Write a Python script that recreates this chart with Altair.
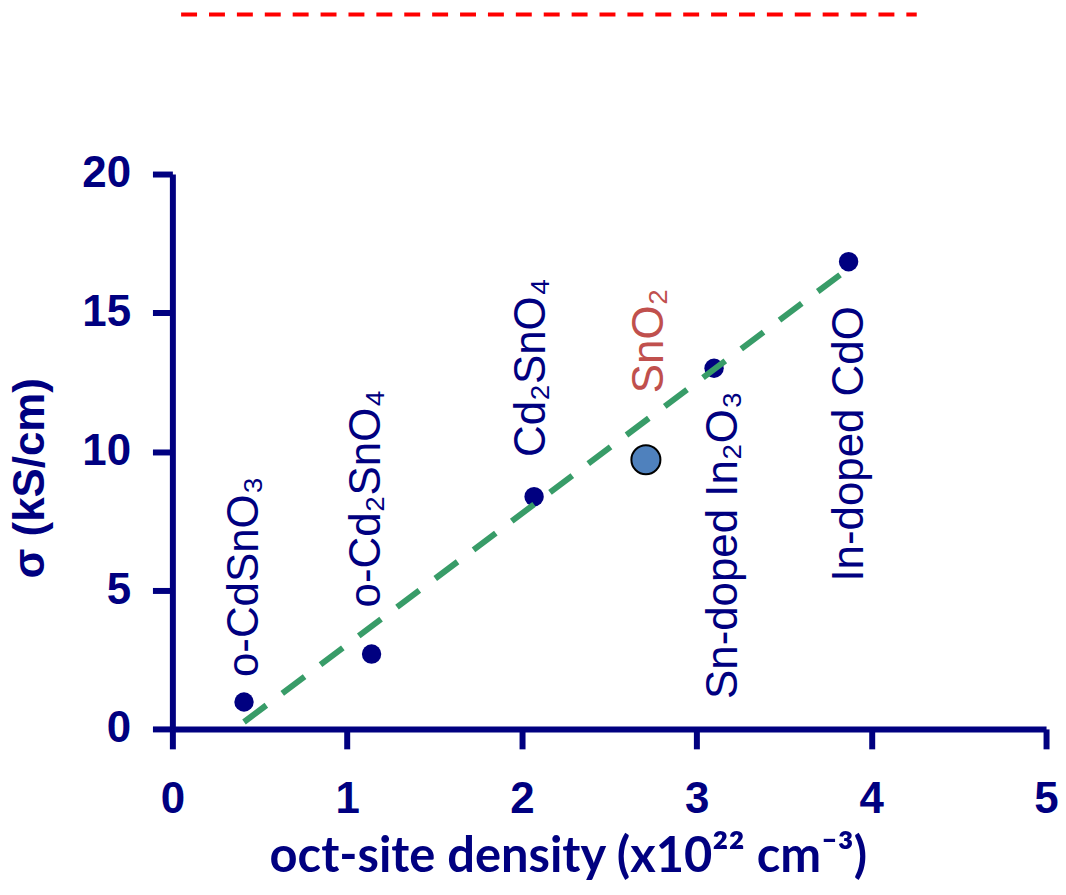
import altair as alt
import pandas as pd

# ---- data ----
materials = ["o-CdSnO₃", "o-Cd₂SnO₄", "Cd₂SnO₄", "Sn-doped In₂O₃", "In-doped CdO"]
density = [0.41, 1.14, 2.07, 3.10, 3.87]
sigma = [0.97, 2.70, 8.37, 13.0, 16.84]
label_x = [0.49, 1.19, 2.13, 3.23, 3.95]
label_y = [1.87, 4.38, 9.80, 1.08, 5.31]

sno2_name = ["SnO₂"]
sno2_density = [2.71]
sno2_sigma = [9.70]
sno2_label_x = [2.81]
sno2_label_y = [12.10]

fit_x = [0.41, 3.87]
fit_y = [0.25, 16.6]

ref_x0 = [0.05]
ref_x1 = [4.26]
ref_y = [25.75]

x_ticks = [0, 1, 2, 3, 4, 5]
y_ticks = [0, 5, 10, 15, 20]

NAVY = "#000080"

pts = pd.DataFrame({"name": materials, "x": density, "y": sigma, "lx": label_x, "ly": label_y})
sno2 = pd.DataFrame({"name": sno2_name, "x": sno2_density, "y": sno2_sigma,
                     "lx": sno2_label_x, "ly": sno2_label_y})
fit = pd.DataFrame({"x": fit_x, "y": fit_y})
ref = pd.DataFrame({"x": ref_x0, "x2": ref_x1, "y": ref_y})

xs = alt.Scale(domain=[0, 5], nice=False, zero=False)
ys = alt.Scale(domain=[0, 20], nice=False, zero=False)

xaxis = alt.Axis(
    values=x_ticks, title="oct-site density (x10²² cm⁻³)", grid=False,
    domainColor=NAVY, domainWidth=6, tickColor=NAVY, tickWidth=6, tickSize=20,
    labelFont="Liberation Sans", labelFontWeight="bold", labelFontSize=44, labelColor=NAVY,
    labelPadding=29, labelFlush=False,
    titleFont="Lato", titleFontWeight="bold", titleFontSize=49, titleColor=NAVY,
    titleX=397, titleY=143, titleBaseline="alphabetic", titleAlign="center",
)
yaxis = alt.Axis(
    values=y_ticks, title="σ (kS/cm)", grid=False,
    domainColor=NAVY, domainWidth=6, tickColor=NAVY, tickWidth=6, tickSize=20,
    labelFont="Liberation Sans", labelFontWeight="bold", labelFontSize=44, labelColor=NAVY,
    labelPadding=22, labelFlush=False, labelBaseline="middle",
    titleFont="Liberation Sans", titleFontWeight="bold", titleFontSize=44, titleColor=NAVY,
    titleX=-142, titleY=305, titleAngle=270, titleAlign="center", titleBaseline="middle",
)

X = lambda f="x": alt.X(f, type="quantitative", scale=xs, axis=xaxis)
Y = lambda f="y": alt.Y(f, type="quantitative", scale=ys, axis=yaxis)

points = alt.Chart(pts).mark_point(filled=True, shape="circle", size=380, color=NAVY, opacity=1).encode(
    x=X(), y=Y())

sno2_pt = alt.Chart(sno2).mark_point(filled=True, shape="circle", size=850, fill="#4f81bd",
                                     stroke="black", strokeWidth=2, opacity=1).encode(x=X(), y=Y())

labels = alt.Chart(pts).mark_text(angle=270, align="left", baseline="alphabetic",
                                  font="Liberation Sans", fontSize=44, color=NAVY).encode(
    x=X("lx"), y=Y("ly"), text="name:N")

sno2_label = alt.Chart(sno2).mark_text(angle=270, align="left", baseline="alphabetic",
                                       font="Liberation Sans", fontSize=44, color="#c0504d").encode(
    x=X("lx"), y=Y("ly"), text="name:N")

fit_line = alt.Chart(fit).mark_line(color="#389c68", strokeWidth=6, strokeDash=[28, 20]).encode(
    x=X(), y=Y())

ref_line = alt.Chart(ref).mark_rule(color="#ff0000", strokeWidth=4, strokeDash=[16, 12]).encode(
    x=X(), x2="x2:Q", y=Y())

chart = alt.layer(points, sno2_pt, fit_line, labels, sno2_label, ref_line).properties(
    width=877, height=557,
    background="white",
    autosize=alt.AutoSizeParams(type="none"),
    padding={"left": 165, "top": 165, "right": 12, "bottom": 153},
).configure_view(strokeWidth=0, stroke="transparent")

chart.save("out.html", embed_options={"renderer": "svg", "actions": False})
